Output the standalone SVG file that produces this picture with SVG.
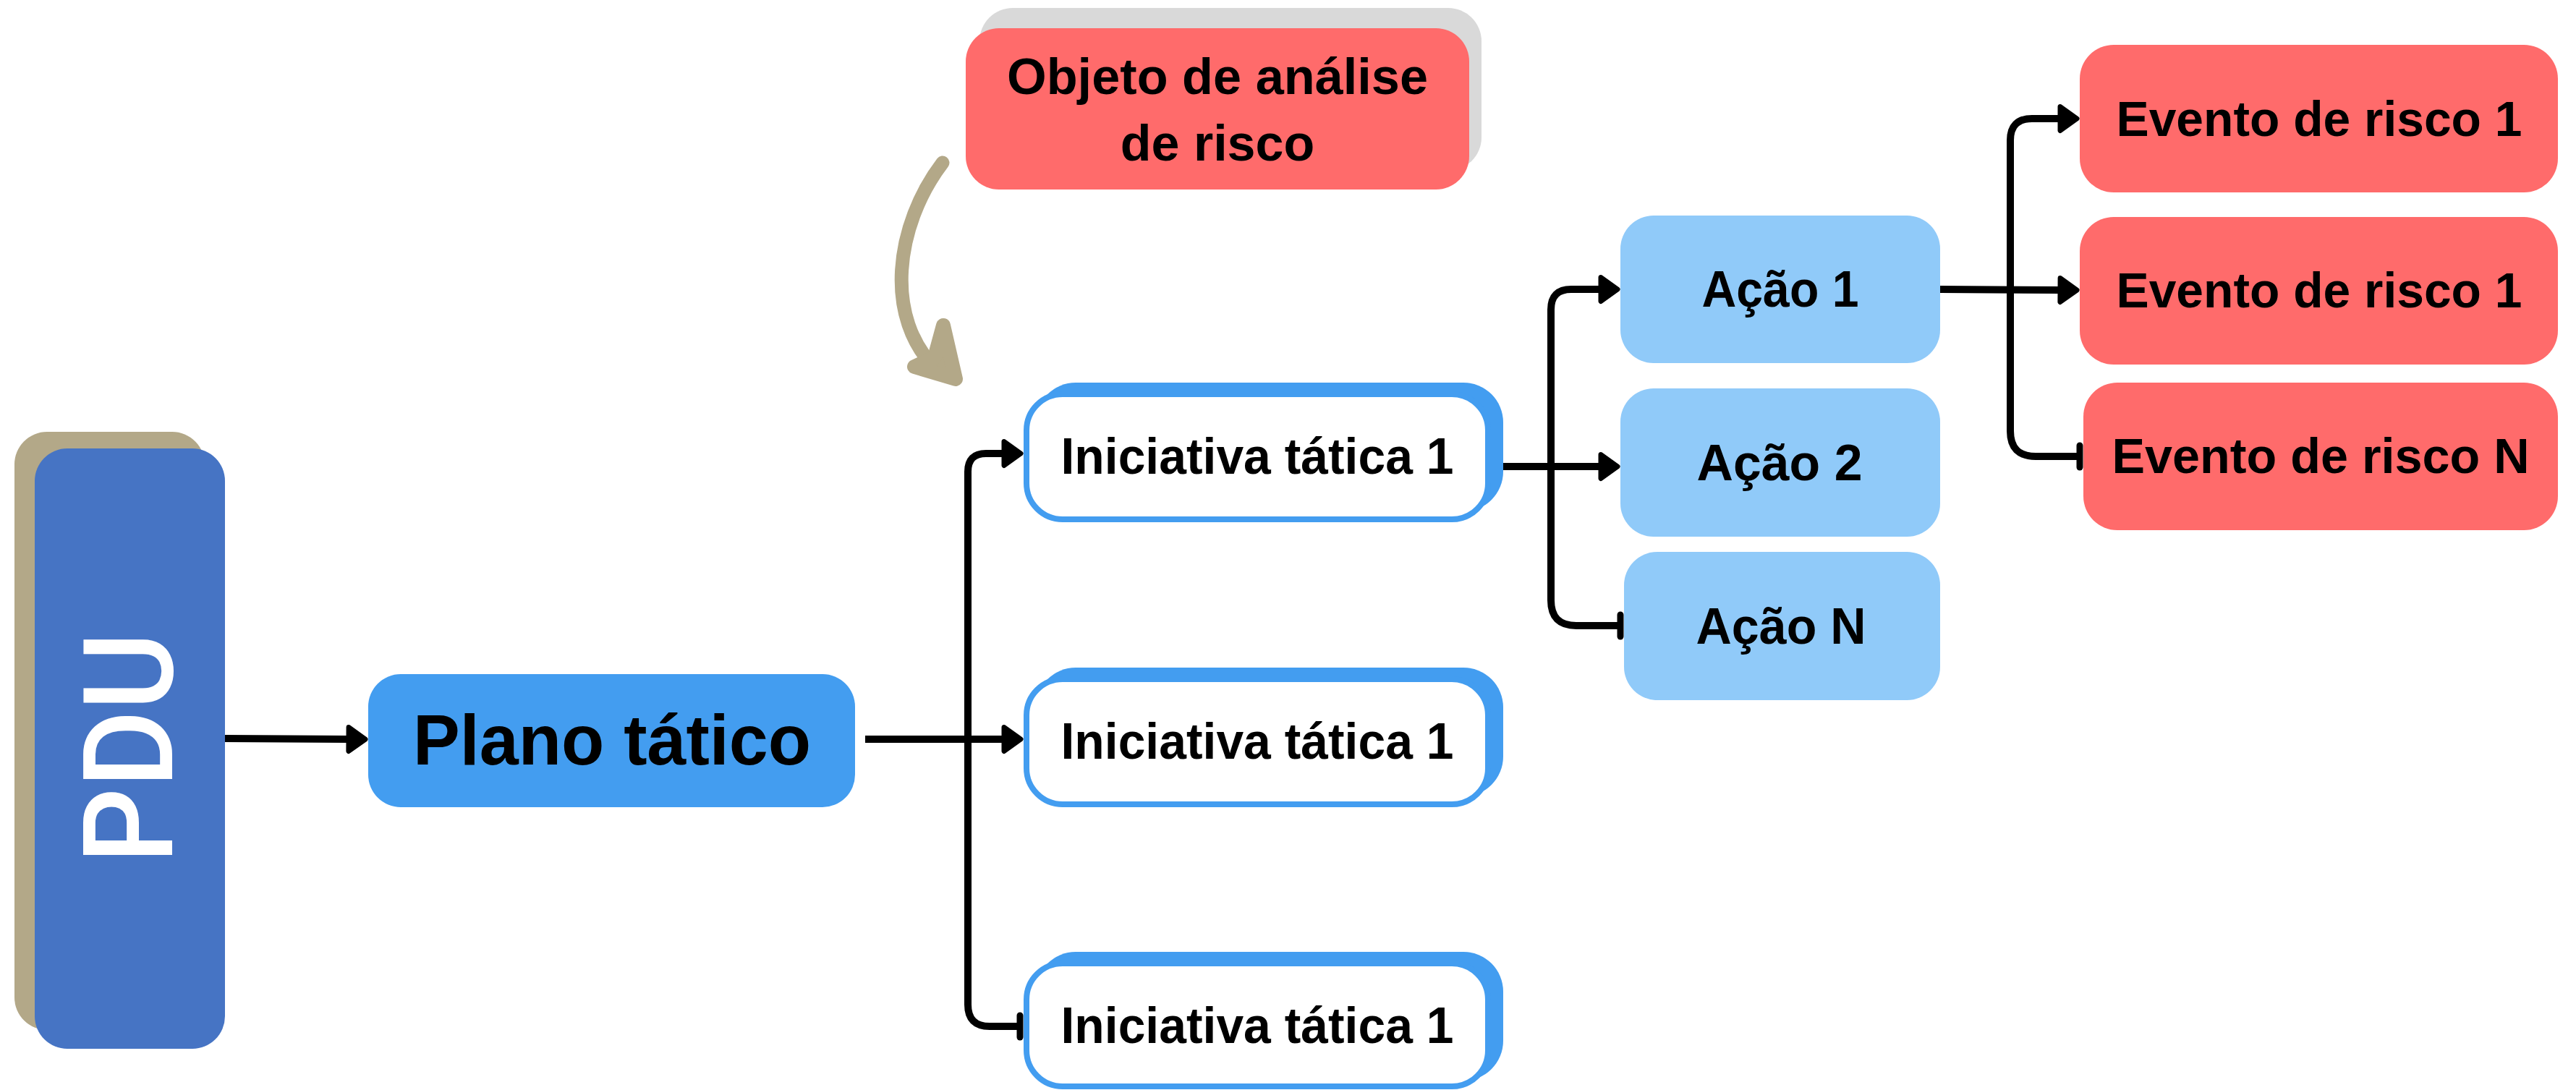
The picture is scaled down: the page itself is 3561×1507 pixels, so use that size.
<svg xmlns="http://www.w3.org/2000/svg" width="3561" height="1507" viewBox="0 0 3561 1507">
<style>
.lbl{font-family:"Liberation Sans",Arial,sans-serif;font-weight:700;fill:#000;text-anchor:middle}
.ln{fill:none;stroke:#000;stroke-width:10;stroke-linejoin:round}
.red{fill:#ff6b6b}
.acao{fill:#90caf9}
.iback{fill:#439df0}
.ifront{fill:#fff;stroke:#439df0;stroke-width:8}
</style>
<defs>
<marker id="ah" markerUnits="userSpaceOnUse" viewBox="-5 -22 38 44" markerWidth="38" markerHeight="44" refX="0" refY="0" orient="auto">
<path d="M0,-16.5 L23,0 L0,16.5 Z" fill="#000" stroke="#000" stroke-width="7" stroke-linejoin="round"/>
</marker>
<marker id="tee" markerUnits="userSpaceOnUse" viewBox="-6 -22 12 44" markerWidth="12" markerHeight="44" refX="0" refY="0" orient="auto">
<path d="M0,-15 L0,15" stroke="#000" stroke-width="9" stroke-linecap="round"/>
</marker>
</defs>
<rect width="3561" height="1507" fill="#fff"/>

<g id="connectors">
<path class="ln" d="M311,1021 L482,1022" marker-end="url(#ah)"/>
<path class="ln" d="M1196,1022 H1388" marker-end="url(#ah)"/>
<path class="ln" d="M1338,1022 V652 Q1338,627 1363,627 H1388" marker-end="url(#ah)"/>
<path class="ln" d="M1338,1022 V1389 Q1338,1419 1368,1419 H1410" marker-end="url(#tee)"/>
<path class="ln" d="M2078,645 H2213" marker-end="url(#ah)"/>
<path class="ln" d="M2144,645 V428 Q2144,400 2172,400 H2213" marker-end="url(#ah)"/>
<path class="ln" d="M2144,645 V830 Q2144,865 2179,865 H2240" marker-end="url(#tee)"/>
<path class="ln" d="M2682,400 L2848,401" marker-end="url(#ah)"/>
<path class="ln" d="M2779,401 V194 Q2779,164 2809,164 H2848" marker-end="url(#ah)"/>
<path class="ln" d="M2779,401 V596 Q2779,631 2814,631 H2875" marker-end="url(#tee)"/>
<g id="risk-arrow" stroke="#b3a888" stroke-linecap="round" stroke-linejoin="round">
<path d="M1303,225 C1238,310 1220,440 1296,512" fill="none" stroke-width="19"/>
<path d="M1304,450 L1321,524 L1264,507 L1292,494 Z" fill="#b3a888" stroke-width="20"/>
</g>
</g>

<g id="pdu">
<rect x="20" y="597" width="263" height="827" rx="45" fill="#b3a888"/>
<rect x="48" y="620" width="263" height="830" rx="45" fill="#4674c4"/>
<text transform="translate(238,1034) rotate(-90)" font-family="Roboto,'Open Sans',sans-serif" font-weight="500" font-size="172" fill="#fff" text-anchor="middle" textLength="320" lengthAdjust="spacingAndGlyphs">PDU</text>
</g>

<g id="plano">
<rect x="509" y="932" width="673" height="184" rx="45" fill="#439df0"/>
<text class="lbl" x="846" y="1057" font-size="99" textLength="550" lengthAdjust="spacingAndGlyphs">Plano tático</text>
</g>

<g id="objeto">
<rect x="1354" y="11" width="694" height="225" rx="46" fill="#d9d9d9"/>
<rect class="red" x="1335" y="39" width="696" height="223" rx="46"/>
<text class="lbl" x="1683" y="130" font-size="70" textLength="582" lengthAdjust="spacingAndGlyphs">Objeto de análise</text>
<text class="lbl" x="1683" y="222" font-size="70">de risco</text>
</g>

<g id="iniciativa1">
<rect class="iback" x="1432" y="529" width="646" height="178" rx="55"/>
<rect class="ifront" x="1419" y="545" width="638" height="173" rx="50"/>
<text class="lbl" x="1738" y="655" font-size="71" textLength="543" lengthAdjust="spacingAndGlyphs">Iniciativa tática 1</text>
</g>
<g id="iniciativa2">
<rect class="iback" x="1432" y="923" width="646" height="178" rx="55"/>
<rect class="ifront" x="1419" y="939" width="638" height="173" rx="50"/>
<text class="lbl" x="1738" y="1049" font-size="71" textLength="543" lengthAdjust="spacingAndGlyphs">Iniciativa tática 1</text>
</g>
<g id="iniciativa3">
<rect class="iback" x="1432" y="1316" width="646" height="178" rx="55"/>
<rect class="ifront" x="1419" y="1332" width="638" height="170" rx="50"/>
<text class="lbl" x="1738" y="1442" font-size="71" textLength="543" lengthAdjust="spacingAndGlyphs">Iniciativa tática 1</text>
</g>

<g id="acao1">
<rect class="acao" x="2240" y="298" width="442" height="204" rx="46"/>
<text class="lbl" x="2461" y="424" font-size="70" textLength="217" lengthAdjust="spacingAndGlyphs">Ação 1</text>
</g>
<g id="acao2">
<rect class="acao" x="2240" y="537" width="442" height="205" rx="46"/>
<text class="lbl" x="2460" y="664" font-size="70" textLength="229" lengthAdjust="spacingAndGlyphs">Ação 2</text>
</g>
<g id="acaoN">
<rect class="acao" x="2245" y="763" width="437" height="205" rx="46"/>
<text class="lbl" x="2462" y="890" font-size="70" textLength="235" lengthAdjust="spacingAndGlyphs">Ação N</text>
</g>

<g id="evento1">
<rect class="red" x="2875" y="62" width="661" height="204" rx="47"/>
<text class="lbl" x="3206" y="188" font-size="69" textLength="561" lengthAdjust="spacingAndGlyphs">Evento de risco 1</text>
</g>
<g id="evento2">
<rect class="red" x="2875" y="300" width="661" height="204" rx="47"/>
<text class="lbl" x="3206" y="425" font-size="69" textLength="561" lengthAdjust="spacingAndGlyphs">Evento de risco 1</text>
</g>
<g id="eventoN">
<rect class="red" x="2880" y="529" width="656" height="204" rx="47"/>
<text class="lbl" x="3208" y="654" font-size="69" textLength="577" lengthAdjust="spacingAndGlyphs">Evento de risco N</text>
</g>
</svg>
